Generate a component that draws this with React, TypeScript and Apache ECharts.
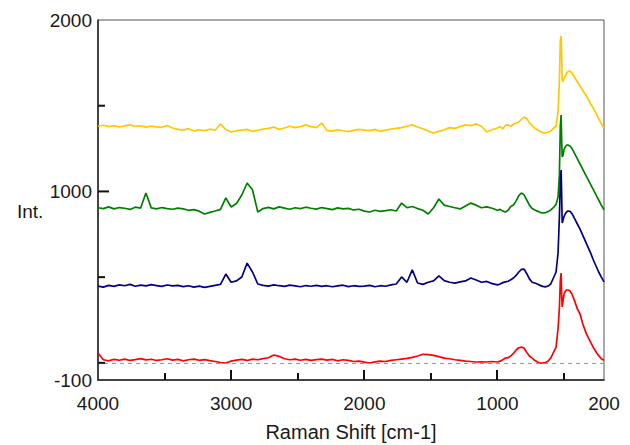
import React, { useEffect, useRef } from "react";
import * as echarts from "echarts";

const shifts = [
  4000, 3960, 3920, 3880, 3840, 3800, 3760, 3720, 3680, 3640,
  3600, 3560, 3520, 3480, 3440, 3400, 3360, 3320, 3280, 3240,
  3200, 3160, 3120, 3080, 3040, 3000, 2960, 2920, 2880, 2840,
  2800, 2760, 2720, 2680, 2640, 2600, 2560, 2520, 2480, 2440,
  2400, 2360, 2320, 2280, 2240, 2200, 2160, 2120, 2080, 2040,
  2000, 1960, 1920, 1880, 1840, 1800, 1760, 1720, 1680, 1640,
  1600, 1560, 1520, 1480, 1440, 1400, 1360, 1320, 1280, 1240, 1200, 1160, 1120, 1080, 1040,
  1000, 980, 960, 940, 920, 900, 880, 860, 840, 820, 800,
  780, 760, 740, 720, 700, 680, 660, 640, 620, 600, 580,
  560, 545, 535, 528, 522, 518, 514, 508, 500, 490, 480, 470, 455,
  440, 420, 400, 380, 360, 340, 320, 300, 280, 260, 240, 220, 200,
];

const yellowSeries = [
  1380, 1386, 1378, 1384, 1376, 1382, 1388, 1379, 1383, 1375,
  1381, 1377, 1374, 1385, 1370, 1362, 1358, 1366, 1352, 1360,
  1355, 1363, 1357, 1393, 1361, 1347, 1354, 1358, 1362, 1350,
  1357, 1364, 1368, 1376, 1362, 1370, 1380, 1372, 1378, 1388,
  1378, 1372, 1399, 1356, 1352, 1360, 1354, 1349, 1356, 1362,
  1358, 1355, 1362, 1350, 1358, 1364, 1368, 1372, 1380, 1388,
  1376, 1366, 1352, 1341, 1350, 1360, 1372, 1368, 1378, 1388, 1384, 1393, 1380, 1347, 1360,
  1370, 1378, 1365, 1385, 1388, 1380, 1392, 1399, 1405, 1420, 1434,
  1425, 1400, 1385, 1370, 1360, 1350, 1343, 1341, 1345, 1352, 1368,
  1380, 1470, 1640, 1880, 1907, 1790, 1650, 1640, 1660, 1672, 1690, 1700, 1702,
  1690, 1665, 1640, 1615, 1590, 1565, 1540, 1510, 1485, 1455, 1425, 1395, 1370,
];

const greenSeries = [
  905, 900, 910, 898, 906, 902, 895, 908, 903, 991,
  904, 898, 906, 900, 896, 903, 898, 890, 894, 885,
  868, 878, 886, 895, 962, 909, 930, 979, 1049, 1010,
  880, 900, 907, 898, 910, 903, 896, 905, 900, 908,
  902, 897, 906, 900, 894, 904, 898, 901, 892, 896,
  885, 880, 890, 884, 888, 893, 886, 932, 905, 912,
  900, 890, 868, 905, 956, 920, 912, 905, 898, 915, 932, 920, 905, 910, 902,
  890, 895, 885, 880, 890, 912, 921, 945, 975, 991, 980,
  950, 920, 900, 892, 885, 878, 874, 876, 882, 892, 905,
  925, 967, 1100, 1380, 1446, 1300, 1201, 1210, 1245, 1262, 1271, 1270, 1265,
  1250, 1220, 1190, 1160, 1130, 1100, 1070, 1040, 1010, 980, 950, 920, 892,
];

const blueSeries = [
  448, 442, 452, 446, 455, 450, 458, 447, 453, 449,
  456, 451, 446, 454, 449, 452, 445, 450, 442, 448,
  440, 446, 452, 458, 518, 470, 478, 501, 582, 530,
  460, 452, 448, 455, 450, 446, 453, 449, 444, 451,
  447, 452, 446, 450, 444, 449, 453, 445, 450, 446,
  448, 452, 444, 450, 447, 455, 460, 501, 470, 542,
  466, 458, 470, 478, 507, 480, 470, 465, 472, 478, 495, 483, 470, 475, 462,
  455, 460, 468, 472, 476, 485, 495, 510, 530, 545, 547,
  520, 490, 470, 466, 460, 452, 446, 443, 448, 460, 495,
  530, 641, 850, 1050, 1125, 980, 816, 830, 855, 870, 882, 886, 884,
  870, 840, 810, 780, 745, 710, 675, 640, 600, 565, 530, 500, 472,
];

const redSeries = [
  57, 18, 12, 20, 15, 22, 14, 19, 25, 17,
  21, 14, 18, 24, 16, 20, 12, 18, 22, 15,
  19, 13, 8, 2, -1, 10, 16, 20, 14, 22,
  18, 25, 30, 46, 38, 24, 18, 22, 15, 20,
  14, 19, 22, 16, 20, 12, 18, 14, 8, 10,
  4, -1, 6, 10, 8, 14, 18, 22, 26, 32,
  40, 50, 48, 44, 36, 28, 24, 18, 14, 10, 8, 5, 6, 5, 8,
  5, 10, 18, 28, 30, 40, 55, 75, 88, 92, 85,
  60, 40, 28, 15, 5, -1, 0, 2, 10, 28, 60,
  92, 200, 320, 480, 524, 400, 326, 360, 400, 418, 425, 425, 420,
  400, 360, 315, 285, 230, 185, 150, 120, 90, 65, 42, 24, 15,
];

const xLabelValues = [4000, 3000, 2000, 1000, 200];
const xMajorTicks = [3000, 2000, 1000];
const xMinorTicks = [3500, 2500, 1500, 500];
const yLabelValues = [-100, 1000, 2000];
const yMajorTicks = [1000];
const yMinorTicks = [1500, 500, 0];

const X_MIN = 200;
const X_MAX = 4000;
const Y_MIN = -100;
const Y_MAX = 2000;

const FONT = "'Liberation Sans', Arial, sans-serif";

export default function App() {
  const ref = useRef<HTMLDivElement>(null);
  useEffect(() => {
    if (!ref.current) return;
    const chart = echarts.init(ref.current, null, { renderer: "svg" });
    const toData = (vals: number[]) => shifts.map((x, i) => [x, vals[i]]);
    const axisLineStyle = { color: "#222", width: 1.5 };
    const plain = (v: number) => String(v);
    const lineW = 1.7;

    chart.setOption({
      animation: false,
      backgroundColor: "#fff",
      grid: {
        left: 98,
        right: 26,
        top: 20,
        bottom: 65,
        show: true,
        borderColor: "#555",
        borderWidth: 1,
        outerBoundsMode: "none",
        containLabel: false,
      },
      xAxis: {
        type: "value",
        inverse: true,
        min: X_MIN,
        max: X_MAX,
        splitLine: { show: false },
        position: "bottom",
        axisLine: { show: true, onZero: false, lineStyle: axisLineStyle },
        axisTick: { show: false },
        axisLabel: {
          show: true,
          customValues: xLabelValues,
          formatter: plain,
          margin: 14,
          fontFamily: FONT,
          fontSize: 19,
          color: "#1a1a1a",
        },
        name: "Raman Shift [cm-1]",
        nameLocation: "middle",
        nameGap: 42,
        nameTextStyle: { fontFamily: FONT, fontSize: 20, color: "#1a1a1a" },
      },
      yAxis: {
        type: "value",
        min: Y_MIN,
        max: Y_MAX,
        splitLine: { show: false },
        position: "left",
        axisLine: { show: true, onZero: false, lineStyle: axisLineStyle },
        axisTick: { show: false },
        axisLabel: {
          show: true,
          customValues: yLabelValues,
          formatter: plain,
          margin: 6,
          fontFamily: FONT,
          fontSize: 19,
          color: "#1a1a1a",
        },
      },
      series: [
        {
          name: "yellow",
          type: "line",
          data: toData(yellowSeries),
          showSymbol: false,
          lineStyle: { color: "#FFC800", width: lineW },
          itemStyle: { color: "#FFC800" },
        },
        {
          name: "green",
          type: "line",
          data: toData(greenSeries),
          showSymbol: false,
          lineStyle: { color: "#008000", width: lineW },
          itemStyle: { color: "#008000" },
        },
        {
          name: "blue",
          type: "line",
          data: toData(blueSeries),
          showSymbol: false,
          lineStyle: { color: "#000080", width: lineW },
          itemStyle: { color: "#000080" },
        },
        {
          name: "red",
          type: "line",
          data: toData(redSeries),
          showSymbol: false,
          lineStyle: { color: "#FF0000", width: lineW },
          itemStyle: { color: "#FF0000" },
          markLine: {
            silent: true,
            symbol: ["none", "none"],
            label: { show: false },
            lineStyle: { color: "#999", type: [4, 4], width: 1 },
            data: [{ yAxis: 0 }],
          },
        },
      ],
    });

    const toPx = (x: number, y: number) =>
      chart.convertToPixel({ gridIndex: 0 }, [x, y]) as number[];
    const tickStyle = { stroke: "#111", lineWidth: 2 };
    const xTick = (v: number, len: number) => {
      const p = toPx(v, Y_MIN);
      return {
        type: "rect",
        silent: true,
        z: 100,
        shape: { x: Math.round(p[0]) - 1, y: Math.round(p[1]) - len, width: 2, height: len },
        style: { fill: "#111" },
      };
    };
    const yTick = (v: number, len: number) => {
      const p = toPx(X_MAX, v);
      return {
        type: "line",
        silent: true,
        z: 100,
        shape: { x1: p[0], y1: p[1], x2: p[0] + len, y2: p[1] },
        style: tickStyle,
      };
    };
    chart.setOption({
      graphic: [
        {
          type: "text",
          left: 17,
          top: 202,
          style: { text: "Int.", font: `19px ${FONT}`, fill: "#1a1a1a" },
        },
        ...xMajorTicks.map((v) => xTick(v, 10)),
        ...xMinorTicks.map((v) => xTick(v, 7)),
        ...yMajorTicks.map((v) => yTick(v, 11)),
        ...yMinorTicks.map((v) => yTick(v, 7)),
      ],
    });
    return () => chart.dispose();
  }, []);
  return (
    <div
      ref={ref}
      style={{ position: "fixed", left: 0, top: 0, width: 630, height: 445 }}
    />
  );
}
